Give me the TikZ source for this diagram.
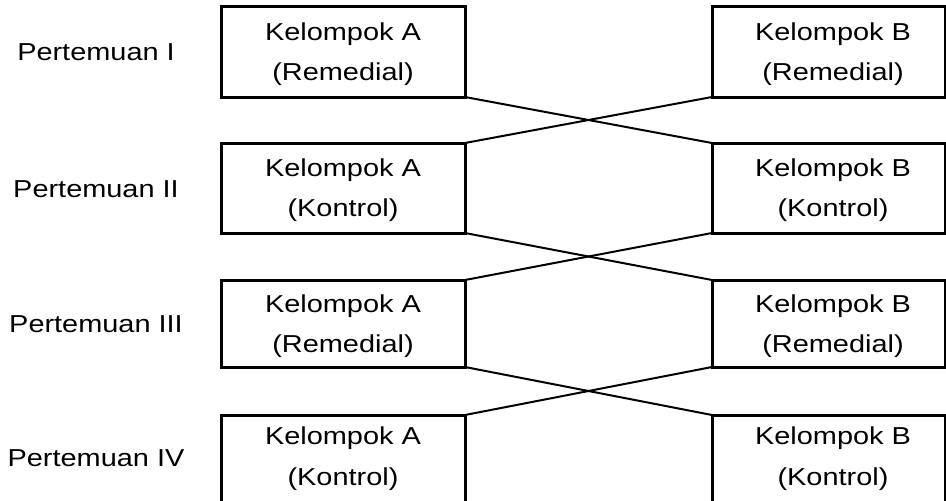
\documentclass[tikz,border=0pt]{standalone}
\usepackage{graphicx}
\usepackage{fontspec}
\setmainfont{Liberation Sans}
\newcommand\sx[1]{\scalebox{1.18}[1]{#1}}
\begin{document}
\begin{tikzpicture}[x=1pt,y=-1pt,
  box/.style={draw, line width=3pt, rectangle, anchor=north west, inner sep=0pt, outer sep=0pt},
  link/.style={line width=2pt},
  txt/.style={anchor=base, inner sep=0pt, font=\fontsize{24.5}{30}\selectfont},
]
\useasboundingbox (0,0) rectangle (946,501);
\foreach \r/\top/\h/\la/\lb/\sub/\lab/\lbase in {1/6/91/40/80/Remedial/I/60, 2/143/90/176/216/Kontrol/II/197, 3/280/87/312/352/Remedial/III/332, 4/415/100/444/485/Kontrol/IV/466} {
  \node[box, minimum width=244pt, minimum height=\h pt] (A\r) at (221,\top) {};
  \node[box, minimum width=233pt, minimum height=\h pt] (B\r) at (712,\top) {};
  \node[txt] (A\r k) at (343,\la) {\sx{Kelompok A}};
  \node[txt] (A\r s) at (343,\lb) {\sx{(\sub)}};
  \node[txt] (B\r k) at (833,\la) {\sx{Kelompok B}};
  \node[txt] (B\r s) at (833,\lb) {\sx{(\sub)}};
  \node[txt] (P\r) at (96,\lbase) {\sx{Pertemuan \lab}};
}
\draw[link] (A1.south east) -- (B2.north west);
\draw[link] (B1.south west) -- (A2.north east);
\draw[link] (A2.south east) -- (B3.north west);
\draw[link] (B2.south west) -- (A3.north east);
\draw[link] (A3.south east) -- (B4.north west);
\draw[link] (B3.south west) -- (A4.north east);
\end{tikzpicture}
\end{document}
